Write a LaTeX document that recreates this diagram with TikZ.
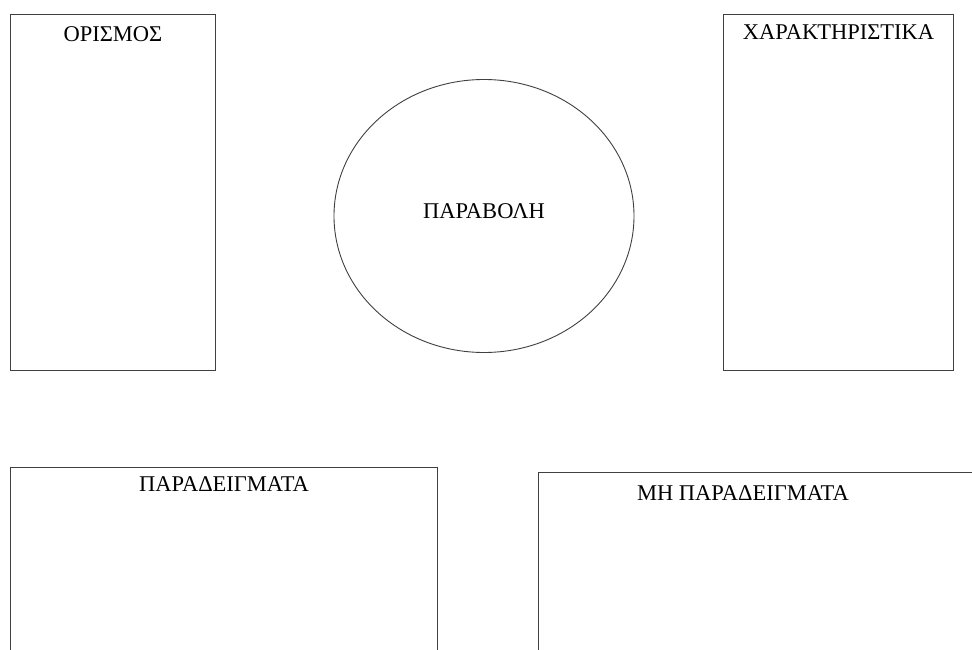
\documentclass[tikz,border=0pt]{standalone}
\usepackage{fontspec}
\setmainfont{Liberation Serif}
\usetikzlibrary{shapes.geometric}
\begin{document}
\begin{tikzpicture}[x=1pt,y=-1pt,
  box/.style={draw=black!75, line width=1pt, rectangle, inner sep=0pt, anchor=north west},
  oval/.style={draw=black!75, line width=0.9pt, ellipse, inner sep=0pt},
  title/.style={font=\fontsize{22.5}{26}\selectfont, anchor=base, inner sep=0pt}]
\clip (0,0) rectangle (972,650);
\fill[white] (0,0) rectangle (972,650);
\node[box, minimum width=205pt, minimum height=356pt] (def) at (10,14) {};
\node[box, minimum width=230pt, minimum height=356pt] (char) at (723,14) {};
\node[box, minimum width=427pt, minimum height=200pt] (ex) at (10,467) {};
\node[box, minimum width=450pt, minimum height=200pt] (nex) at (538,472) {};
\node[oval, minimum width=300pt, minimum height=273pt] (par) at (484,216) {};
\node[title] (deft) at ([yshift=-28pt]def.north) {ΟΡΙΣΜΟΣ};
\node[title] (chart) at ([yshift=-26pt]char.north) {ΧΑΡΑΚΤΗΡΙΣΤΙΚΑ};
\node[title] (ext) at ([yshift=-24pt]ex.north) {ΠΑΡΑΔΕΙΓΜΑΤΑ};
\node[title] (nlabel) at (743,500) {ΜΗ ΠΑΡΑΔΕΙΓΜΑΤΑ};
\node[title] (part) at (484,218) {ΠΑΡΑΒΟΛΗ};
\end{tikzpicture}
\end{document}
